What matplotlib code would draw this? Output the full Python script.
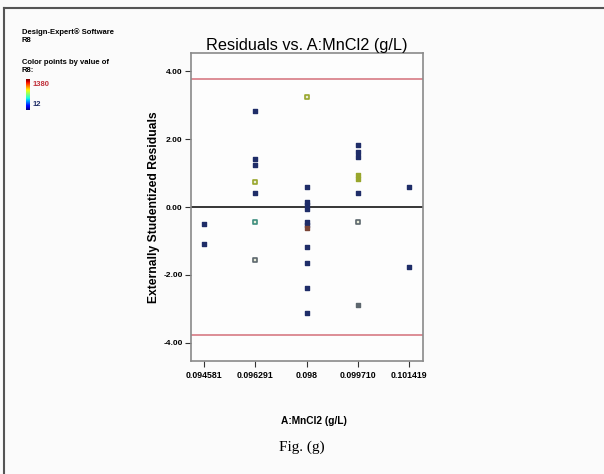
import matplotlib.pyplot as plt
import numpy as np
from matplotlib.lines import Line2D

# уровни фактора A и подписи делений
x_levels = [0.094581, 0.096291, 0.098, 0.09971, 0.101419]
x_ticklabels = ['0.094581', '0.096291', '0.098', '0.099710', '0.101419']
y_ticks = [-4, -2, 0, 2, 4]
y_ticklabels = ['-4.00', '-2.00', '0.00', '2.00', '4.00']

# остатки по столбцам (индекс уровня, значение, цвет, полый ли маркер)
pt_level = [0, 0,
            1, 1, 1, 1, 1, 1, 1,
            2, 2, 2, 2, 2, 2, 2, 2, 2, 2, 2, 2,
            3, 3, 3, 3, 3, 3, 3, 3,
            4, 4]
pt_resid = [-0.50, -1.10,
            2.83, 1.41, 1.24, 0.73, 0.42, -0.45, -1.57,
            3.24, 0.60, 0.16, 0.06, -0.05, -0.43, -0.53, -0.63, -1.17, -1.66, -2.39, -3.11,
            1.82, 1.63, 1.46, 0.94, 0.81, 0.42, -0.45, -2.89,
            0.60, -1.77]
pt_color = ['navy', 'navy',
            'navy', 'navy', 'navy', 'olive', 'navy', 'teal', 'gray',
            'olive', 'navy', 'navy', 'navy', 'navy', 'navy', 'navy', 'brown', 'navy', 'navy', 'navy', 'navy',
            'navy', 'navy', 'navy', 'olive', 'olive', 'navy', 'gray', 'gray',
            'navy', 'navy']
pt_hollow = [0, 0,
             0, 0, 0, 1, 0, 1, 1,
             1, 0, 0, 0, 0, 0, 0, 0, 0, 0, 0, 0,
             0, 0, 0, 0, 0, 0, 1, 0,
             0, 0]
limit = 3.76  # красные линии

cmap_names = {'navy': '#1f2d68', 'olive': '#98a62c', 'teal': '#3e8e80',
              'gray': '#5d676e', 'brown': '#7a4436'}

plt.rcParams['font.family'] = ['Liberation Sans', 'DejaVu Sans']

fig = plt.figure(figsize=(6.04, 4.74), dpi=100)
fig.patch.set_facecolor('#fbfbfb')

# рамка скана
fig.add_artist(Line2D([4/604, 4/604], [0, 1 - 8/474], transform=fig.transFigure,
                      color='#555555', lw=1.5))
fig.add_artist(Line2D([4/604, 1], [1 - 8/474, 1 - 8/474], transform=fig.transFigure,
                      color='#555555', lw=1.5))

ax = fig.add_axes([191/604, 1 - 361/474, 232/604, 308/474])
ax.set_facecolor('#fdfdfd')

xs = np.array([x_levels[i] for i in pt_level])
ys = np.array(pt_resid)
cols = [cmap_names[c] for c in pt_color]
for xi, yi, c, h in zip(xs, ys, cols, pt_hollow):
    if h:
        ax.scatter(xi, yi, s=12, marker='s', facecolors='#e8ecd8', edgecolors=c, linewidths=1.2, zorder=3)
    else:
        ax.scatter(xi, yi, s=12, marker='s', color=c, zorder=3)

ax.axhline(0, color='black', lw=1.1, zorder=2)
ax.axhline(limit, color='#d4707a', lw=1.1, zorder=2)
ax.axhline(-limit, color='#d4707a', lw=1.1, zorder=2)

ax.set_xlim(0.094148, 0.101875)
ax.set_ylim(-4.53, 4.53)
ax.set_xticks(x_levels)
ax.set_xticklabels(x_ticklabels, fontsize=6.3, fontweight='bold')
ax.set_yticks(y_ticks)
ax.set_yticklabels(y_ticklabels, fontsize=6, fontweight='bold')
ax.tick_params(axis='both', length=4, width=0.8, color='#333333', pad=3)
ax.tick_params(axis='y', pad=2)
for s in ax.spines.values():
    s.set_color('#8a8a8a')
    s.set_linewidth(1.2)

ax.set_title('Residuals vs. A:MnCl2 (g/L)', fontsize=11.7, pad=2)
ax.set_ylabel('Externally Studentized Residuals', fontsize=8.7, fontweight='bold')
ax.yaxis.set_label_coords(-0.135, 0.5)
fig.text(314/604, 1 - 421/474, 'A:MnCl2 (g/L)', fontsize=7.3, fontweight='bold',
         ha='center', va='center')
fig.text(302/604, 1 - 447/474, 'Fig. (g)', fontsize=11, family='Liberation Serif',
         ha='center', va='center')

# подписи Design-Expert слева сверху
fig.text(22/604, 1 - 32/474, 'Design-Expert® Software', fontsize=5.5, fontweight='bold', va='center')
fig.text(22/604, 1 - 40/474, 'R8', fontsize=5.5, fontweight='bold', va='center')
fig.text(22/604, 1 - 62/474, 'Color points by value of', fontsize=5.5, fontweight='bold', va='center')
fig.text(22/604, 1 - 71/474, 'R8:', fontsize=5.5, fontweight='bold', va='center')

cax = fig.add_axes([26/604, 1 - 110/474, 4/604, 31/474])
grad = np.linspace(1, 0, 50).reshape(-1, 1)
cax.imshow(grad, aspect='auto', cmap='jet', extent=[0, 1, 0, 1])
cax.set_axis_off()
fig.text(33/604, 1 - 84/474, '1380', fontsize=5.5, fontweight='bold', color='#c0303a', va='center')
fig.text(33/604, 1 - 104/474, '12', fontsize=5.5, fontweight='bold', color='#1f2d68', va='center')

fig.savefig('out.png', dpi=100, facecolor=fig.get_facecolor())
